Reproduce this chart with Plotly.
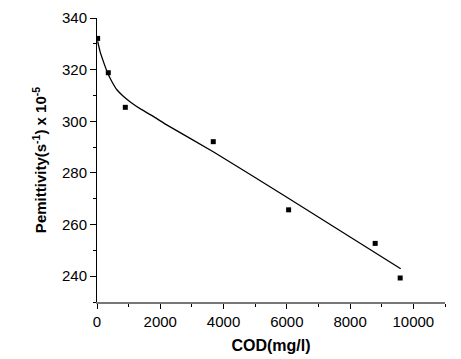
import plotly.graph_objects as go

# Measured data points
cod = [20, 357, 895, 3675, 6057, 8793, 9583]
perm = [332.1, 318.8, 305.4, 292.1, 265.7, 252.7, 239.3]

# Fitted curve
fit_x = [20, 95, 200, 337, 464, 622, 831, 1096, 1412, 1779, 2148, 3700, 6000, 9600]
fit_y = [331.0, 327.1, 323.2, 318.7, 315.5, 312.3, 309.7, 307.1, 304.5, 301.9, 299.0, 288.0, 270.6, 242.9]

x_ticks = [0, 2000, 4000, 6000, 8000, 10000]
x_labels = ["0", "2000", "4000", "6000", "8000", "10000"]
y_ticks = [240, 260, 280, 300, 320, 340]

font = "Liberation Sans, Arial, sans-serif"

fig = go.Figure()
fig.add_trace(go.Scatter(x=fit_x, y=fit_y, mode="lines", line=dict(color="black", width=1.3, shape="spline", smoothing=0.3), showlegend=False))
fig.add_trace(go.Scatter(x=cod, y=perm, mode="markers", marker=dict(symbol="square", size=5, color="black"), showlegend=False))

# page has an 8px body margin, so the figure is sized/positioned to compensate
fig.update_layout(
    width=453, height=351,
    margin=dict(l=89, r=16, t=10, b=57),
    paper_bgcolor="white", plot_bgcolor="white",
    font=dict(family=font, size=15, color="black"),
    xaxis=dict(range=[0, 11000], tickvals=x_ticks, ticktext=x_labels, ticks="outside", ticklen=5, tickcolor="black",
               showline=True, linecolor="#777777", linewidth=2, showgrid=False, zeroline=False, automargin=False,
               minor=dict(dtick=1000, tick0=0, ticks="outside", ticklen=3, tickcolor="black"),
               title=dict(text="<b>COD(mg/l)</b>", font=dict(size=16), standoff=11)),
    yaxis=dict(range=[230, 340], tickvals=y_ticks, ticks="outside", ticklen=6, tickcolor="black",
               showline=True, linecolor="black", linewidth=1, showgrid=False, zeroline=False, automargin=False,
               minor=dict(dtick=10, tick0=230, ticks="outside", ticklen=3, tickcolor="black"),
               title=dict(text="<b>Pemittivity(s<sup>-1</sup>) x 10<sup>-5</sup></b>", font=dict(size=15), standoff=11)),
)

fig.write_html("out.html")
